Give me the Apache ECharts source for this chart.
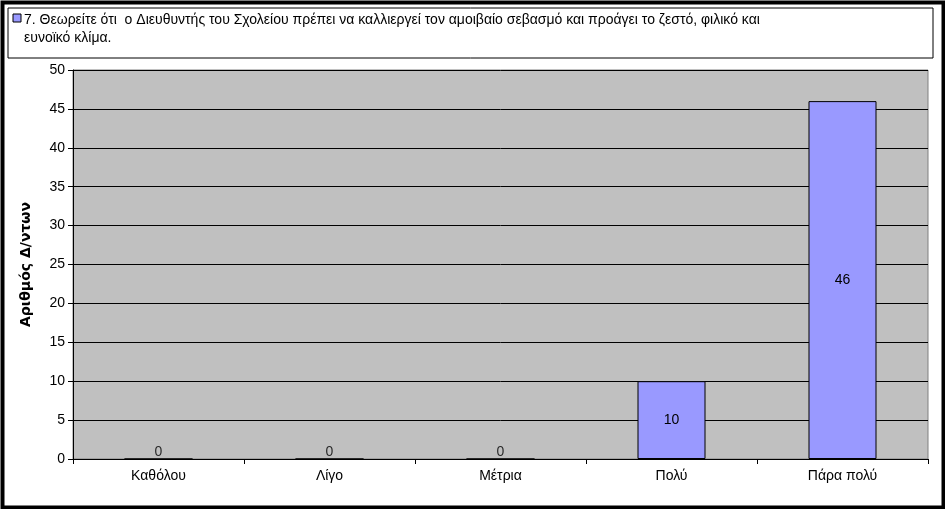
<!DOCTYPE html>
<html><head><meta charset="utf-8">
<script src="https://cdn.jsdelivr.net/npm/echarts@6/dist/echarts.min.js"></script>
<style>html,body{margin:0;padding:0;background:#fff}#c{width:945px;height:509px}</style>
</head><body><div id="c"></div>
<script>
const categories = ['Καθόλου','Λίγο','Μέτρια','Πολύ','Πάρα πολύ'];
const values = [0,0,0,10,46];
const seriesName = '7. Θεωρείτε ότι  ο Διευθυντής του Σχολείου πρέπει να καλλιεργεί τον αμοιβαίο σεβασμό και προάγει το ζεστό, φιλικό και\nευνοϊκό κλίμα.';
const yTitle = 'Αριθμός Δ/ντων';
const chart = echarts.init(document.getElementById('c'));
const font = 'Liberation Sans, Arial, sans-serif';
chart.setOption({
  animation:false,
  backgroundColor:'#fff',
  graphic:[
    {type:'rect',left:0,top:0,shape:{x:2,y:2,width:941,height:505},style:{fill:'none',stroke:'#000',lineWidth:4},silent:true},
    {type:'rect',shape:{x:8,y:8,width:925,height:50},style:{fill:'#fff',stroke:'#000',lineWidth:1}},
    {type:'rect',shape:{x:13,y:14,width:8,height:8},style:{fill:'#9999FF',stroke:'#000',lineWidth:1}},
    {type:'text',x:24,y:11,style:{text:seriesName,font:'14px '+font,fill:'#000',lineHeight:18}}
  ],
  grid:{left:73,right:17,top:70,bottom:50,backgroundColor:'#C0C0C0',show:true,borderColor:'#808080',borderWidth:1},
  xAxis:{type:'category',data:categories,
    axisLine:{lineStyle:{color:'#000'}},axisTick:{show:true,lineStyle:{color:'#000'}},
    axisLabel:{color:'#000',fontFamily:font,fontSize:14,margin:10}},
  yAxis:{type:'value',min:0,max:50,interval:5,name:yTitle,nameLocation:'middle',nameGap:40,
    nameTextStyle:{fontFamily:'DejaVu Sans',fontWeight:'bold',fontSize:14,color:'#000'},
    axisLine:{show:true,lineStyle:{color:'#000'}},axisTick:{show:true,lineStyle:{color:'#000'}},
    axisLabel:{color:'#000',fontFamily:font,fontSize:14},
    splitLine:{lineStyle:{color:'#000',width:1}}},
  series:[{type:'bar',data:values,barWidth:68,
    itemStyle:{color:'#9999FF',borderColor:'#000',borderWidth:1},
    label:{show:true,position:'inside',color:'#000',fontFamily:font,fontSize:14,
      formatter:p=>p.value===0?'':p.value}},
    {type:'scatter',data:values.map(v=>v===0?0:null),symbolSize:0,
     label:{show:true,position:'top',distance:0,color:'#000',fontFamily:font,fontSize:14,formatter:'0'}}]
});
</script></body></html>
